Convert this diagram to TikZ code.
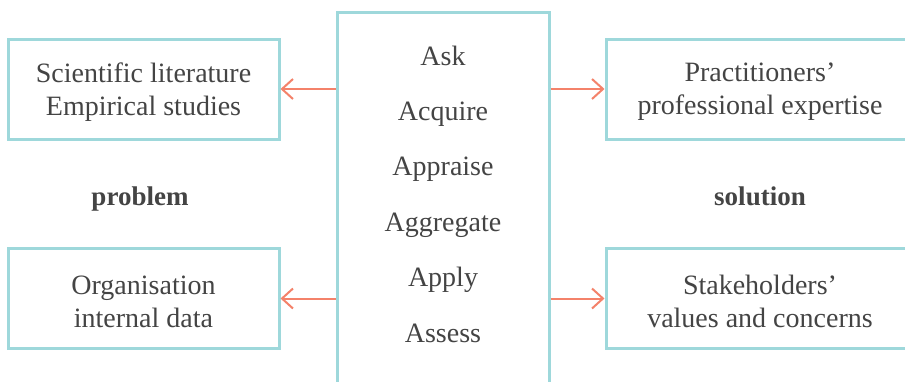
\documentclass[tikz,border=0pt]{standalone}
\usepackage{fontspec}
\setmainfont{Liberation Serif}
\usetikzlibrary{arrows.meta}
\definecolor{teal}{HTML}{9ED8DB}
\definecolor{coral}{HTML}{F4826A}
\definecolor{ink}{HTML}{444444}
\tikzset{
  box/.style={draw=teal, line width=3pt, rectangle, inner sep=0pt},
  txt/.style={align=center, text=ink, font=\fontsize{28}{33}\selectfont, inner sep=0pt},
  item/.style={text=ink, font=\fontsize{28}{32}\selectfont, inner sep=0pt, anchor=base},
  tag/.style={text=ink, font=\fontsize{27}{32}\selectfont\bfseries, inner sep=0pt, anchor=base},
  arr/.style={draw=coral, line width=2pt, -{Straight Barb[length=11pt,width=20pt,line width=2pt]}}
}
\begin{document}
\begin{tikzpicture}[x=1pt,y=-1pt]
\useasboundingbox (0,0) rectangle (905,381);
\clip (0,0) rectangle (905,381);
\fill[white] (0,0) rectangle (905,381);
% central box
\node[box, minimum width=212pt, minimum height=400pt] (mid) at (443,212) {};
% side boxes
\node[box, minimum width=271pt, minimum height=100pt] (sl) at (143.5,89) {};
\node[box, minimum width=271pt, minimum height=100pt] (oi) at (143.5,298.5) {};
\node[box, minimum width=340pt, minimum height=100pt] (pp) at (776,89) {};
\node[box, minimum width=340pt, minimum height=100pt] (sv) at (776,298.5) {};
% box texts
\node[txt] (slt) at (143.5,92) {Scientific literature\\Empirical studies};
\node[txt] (oit) at (143.5,301.5) {Organisation\\internal data};
\node[txt] (ppt) at (760,92) {Practitioners’\\professional expertise};
\node[txt] (svt) at (760,301.5) {Stakeholders’\\values and concerns};
% steps
\node[item] (s1) at (443,65) {Ask};
\node[item] (s2) at (443,120.4) {Acquire};
\node[item] (s3) at (443,175.8) {Appraise};
\node[item] (s4) at (443,231.2) {Aggregate};
\node[item] (s5) at (443,286.6) {Apply};
\node[item] (s6) at (443,342) {Assess};
% labels
\node[tag] (pr) at (140,205) {problem};
\node[tag] (so) at (760,205) {solution};
% arrows
\draw[arr] (mid.west |- sl.east) -- (sl.east);
\draw[arr] (mid.west |- oi.east) -- (oi.east);
\draw[arr] (mid.east |- pp.west) -- (pp.west);
\draw[arr] (mid.east |- sv.west) -- (sv.west);
\end{tikzpicture}
\end{document}
